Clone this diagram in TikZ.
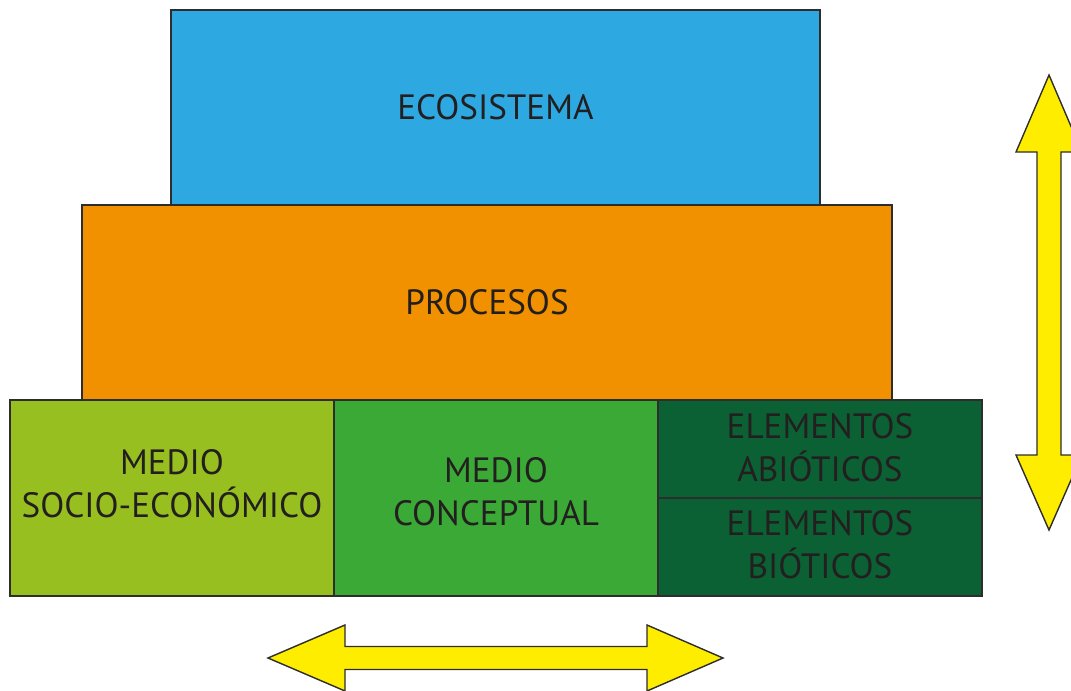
\documentclass[tikz,border=0pt]{standalone}
\usepackage{fontspec}
\setmainfont{PT Sans}
\usepackage{xcolor}
\usepackage{tikz}
\usetikzlibrary{positioning}
\definecolor{ecoblue}{RGB}{46,168,224}
\definecolor{procorange}{RGB}{242,145,0}
\definecolor{sociogreen}{RGB}{151,191,31}
\definecolor{concgreen}{RGB}{58,169,53}
\definecolor{elemgreen}{RGB}{11,97,51}
\definecolor{arrowyellow}{RGB}{255,237,0}
\definecolor{edgegray}{RGB}{45,45,45}
\definecolor{textgray}{RGB}{35,31,32}

\begin{document}
\begin{tikzpicture}[
    x=0.02cm, y=-0.02cm,
    every node/.style={font=\fontsize{20}{24.5}\selectfont, text=textgray, align=center},
    level/.style={draw=edgegray, line width=0.6pt},
    bigarrow/.style={draw=edgegray, line width=0.8pt, fill=arrowyellow, line join=miter},
]
    \useasboundingbox (0,0) rectangle (1071,690);

    % Top levels
    \draw[level, fill=ecoblue] (171,10) rectangle (820,205);
    \node (eco) at (495.5,107) {ECOSISTEMA};
    \draw[level, fill=procorange] (82,205) rectangle (892,400);
    \node (proc) at (487,302) {PROCESOS};

    % Bottom row
    \draw[level, fill=sociogreen] (10,400) rectangle (334,596);
    \node (socio) at (172,484) {MEDIO\\SOCIO-ECONÓMICO};
    \draw[level, fill=concgreen] (334,400) rectangle (658,596);
    \node (conc) at (496,492) {MEDIO\\CONCEPTUAL};
    \draw[level, fill=elemgreen] (658,400) rectangle (982,498);
    \node (abio) at (820,448) {ELEMENTOS\\ABIÓTICOS};
    \draw[level, fill=elemgreen] (658,498) rectangle (982,596);
    \node (bio) at (820,545) {ELEMENTOS\\BIÓTICOS};

    % Vertical arrow
    \draw[bigarrow] (1049,75) -- (1082,152) -- (1061,152) -- (1061,455) -- (1082,455)
        -- (1049,530) -- (1016,455) -- (1037,455) -- (1037,152) -- (1016,152) -- cycle;

    % Horizontal arrow
    \draw[bigarrow] (268,658) -- (345,625) -- (345,646.5) -- (647,646.5) -- (647,625)
        -- (723,658) -- (647,691) -- (647,669.5) -- (345,669.5) -- (345,691) -- cycle;
\end{tikzpicture}
\end{document}
